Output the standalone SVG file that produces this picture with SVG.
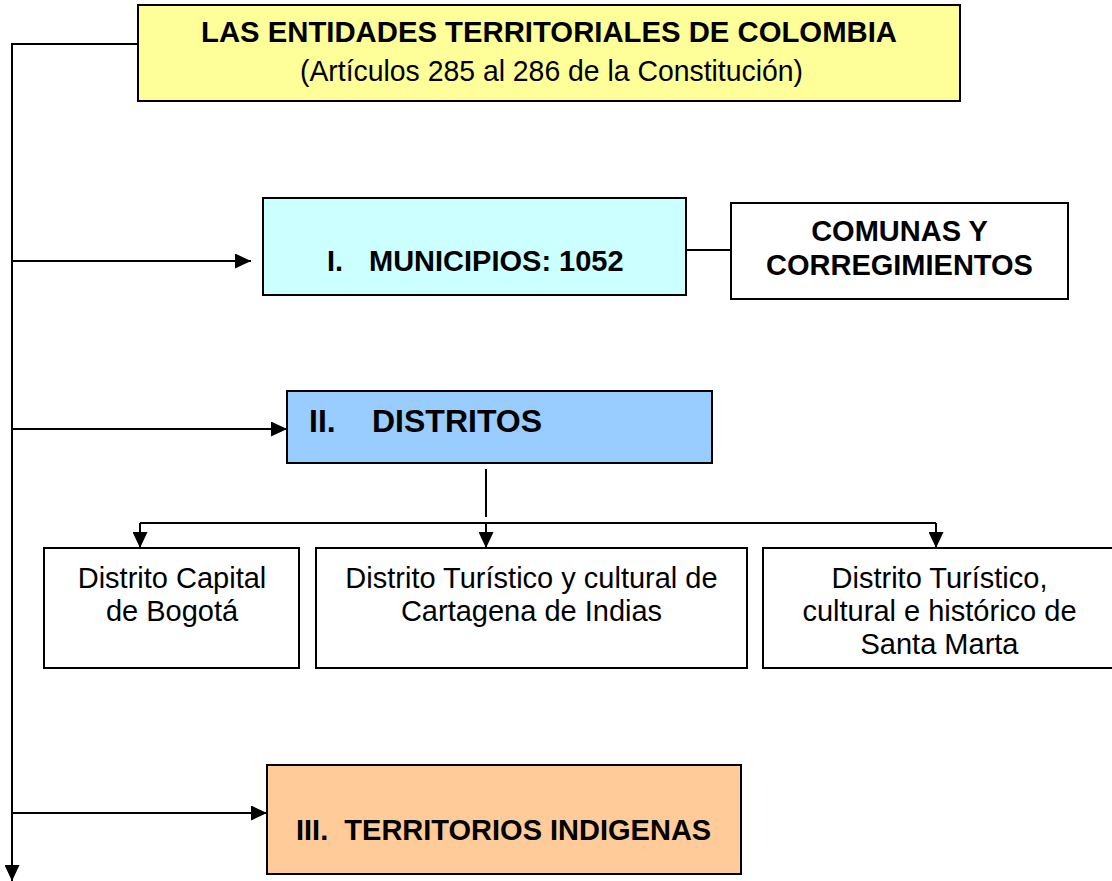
<svg xmlns="http://www.w3.org/2000/svg" width="1112" height="881" viewBox="0 0 1112 881">
<style>
  .box { stroke: #000; stroke-width: 2; }
  .ln { fill: none; stroke: #000; stroke-width: 2; }
  .t { font-family: "Liberation Sans", Arial, sans-serif; font-size: 29px; fill: #000; }
  .b { font-weight: bold; }
  .c { text-anchor: middle; }
</style>
<defs>
  <marker id="arr" markerUnits="userSpaceOnUse" markerWidth="16" markerHeight="15" refX="16" refY="7.5" orient="auto">
    <path d="M0,0 L16,7.5 L0,15 z" fill="#000"/>
  </marker>
</defs>
<rect width="1112" height="881" fill="#fff"/>
<g id="connectors">
  <path class="ln" d="M138,44 H12 V881" marker-end="url(#arr)"/>
  <path class="ln" d="M12,261 H251" marker-end="url(#arr)"/>
  <path class="ln" d="M12,429 H287" marker-end="url(#arr)"/>
  <path class="ln" d="M12,813 H267" marker-end="url(#arr)"/>
  <path class="ln" d="M686,250 H731"/>
  <path class="ln" d="M486,469 V517"/>
  <path class="ln" d="M140,523 H936"/>
  <path class="ln" d="M140,523 V548" marker-end="url(#arr)"/>
  <path class="ln" d="M486,523 V548" marker-end="url(#arr)"/>
  <path class="ln" d="M936,523 V548" marker-end="url(#arr)"/>
</g>
<g id="title">
  <rect class="box" x="138" y="5" width="822" height="96" fill="#FFFF99"/>
  <text class="t b c" x="549" y="42" textLength="696" lengthAdjust="spacingAndGlyphs">LAS ENTIDADES TERRITORIALES DE COLOMBIA</text>
  <text class="t c" x="551.5" y="81" textLength="503" lengthAdjust="spacingAndGlyphs">(Artículos 285 al 286 de la Constitución)</text>
</g>
<g id="municipios">
  <rect class="box" x="263" y="198" width="423" height="97" fill="#CCFFFF"/>
  <text class="t b"><tspan x="327" y="271">I.</tspan><tspan x="369" y="271">MUNICIPIOS: 1052</tspan></text>
</g>
<g id="comunas">
  <rect class="box" x="731" y="203" width="337" height="96" fill="#FFFFFF"/>
  <text class="t b c" x="899.5" y="241">COMUNAS Y</text>
  <text class="t b c" x="899.5" y="275">CORREGIMIENTOS</text>
</g>
<g id="distritos">
  <rect class="box" x="287" y="391" width="425" height="72" fill="#99CCFF"/>
  <text class="t b" style="font-size:32px"><tspan x="309" y="432">II.</tspan><tspan x="372" y="432">DISTRITOS</tspan></text>
</g>
<g id="bogota">
  <rect class="box" x="44" y="548" width="255" height="120" fill="#FFFFFF"/>
  <text class="t c" x="172" y="588">Distrito Capital</text>
  <text class="t c" x="172" y="621">de Bogotá</text>
</g>
<g id="cartagena">
  <rect class="box" x="316" y="548" width="431" height="120" fill="#FFFFFF"/>
  <text class="t c" x="531.5" y="588">Distrito Turístico y cultural de</text>
  <text class="t c" x="531.5" y="621">Cartagena de Indias</text>
</g>
<g id="santamarta">
  <rect class="box" x="763" y="548" width="352" height="120" fill="#FFFFFF"/>
  <text class="t c" x="939.5" y="588">Distrito Turístico,</text>
  <text class="t c" x="939.5" y="621">cultural e histórico de</text>
  <text class="t c" x="939.5" y="654">Santa Marta</text>
</g>
<g id="territorios">
  <rect class="box" x="267" y="765" width="474" height="109" fill="#FFCC99"/>
  <text class="t b" x="296" y="840" xml:space="preserve">III.  TERRITORIOS INDIGENAS</text>
</g>
</svg>
